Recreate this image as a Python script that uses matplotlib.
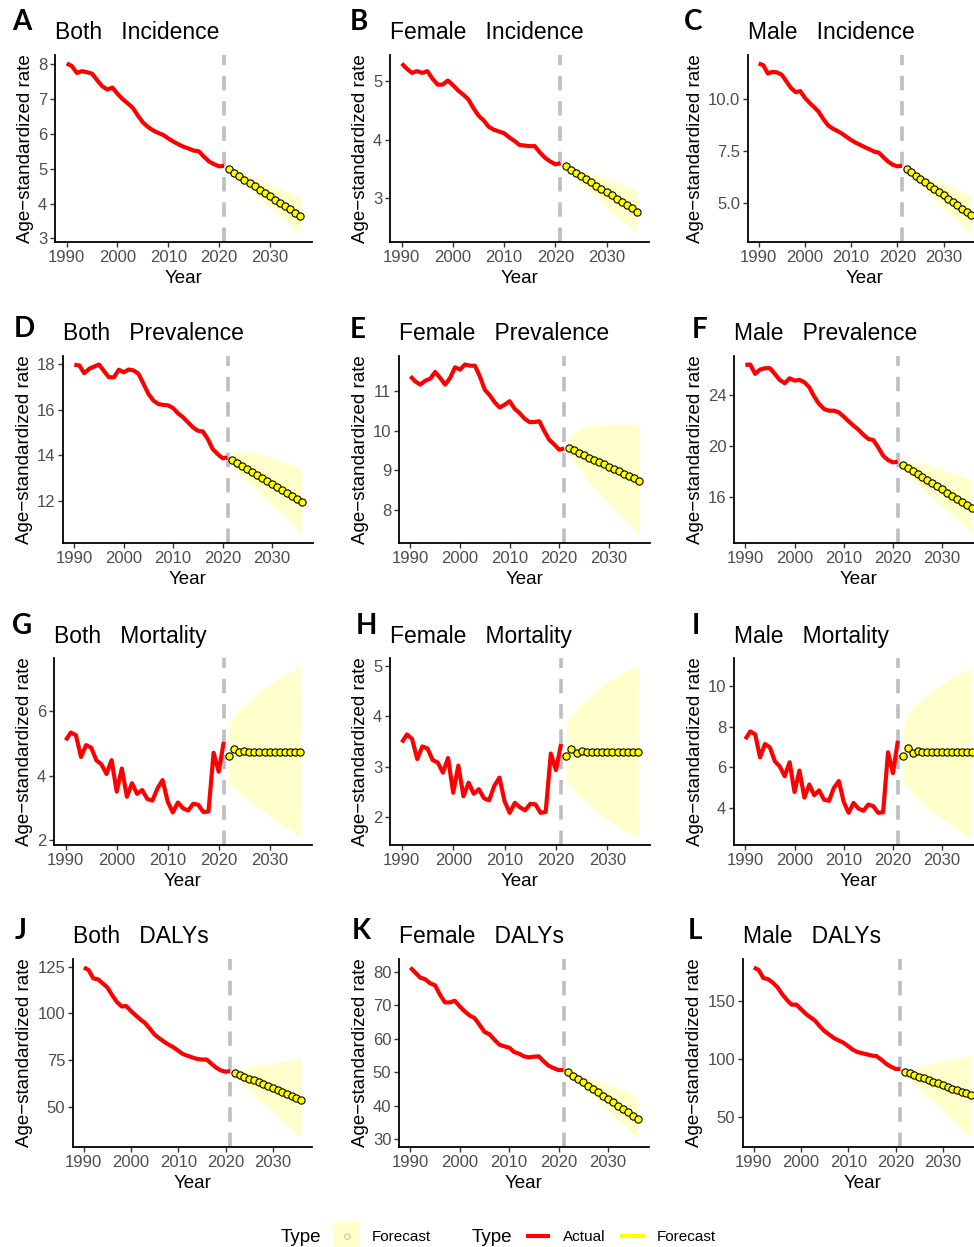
import matplotlib
matplotlib.use("Agg")
import matplotlib.pyplot as plt
from matplotlib.lines import Line2D
from matplotlib.patches import Rectangle
import numpy as np

plt.rcParams['font.family'] = ['Liberation Sans', 'DejaVu Sans']

years_actual = list(range(1990, 2022))
years_fc = list(range(2022, 2037))

# ---------------- data ----------------
both_inc = [8.02, 7.95, 7.75, 7.80, 7.77, 7.73, 7.54, 7.37, 7.27, 7.33, 7.15, 7.00, 6.88, 6.75, 6.53, 6.33,
            6.20, 6.10, 6.03, 5.97, 5.87, 5.78, 5.70, 5.63, 5.58, 5.52, 5.50, 5.35, 5.21, 5.13, 5.07, 5.08]
both_inc_fc = [4.98, 4.88, 4.78, 4.69, 4.59, 4.50, 4.40, 4.31, 4.21, 4.11, 4.02, 3.92, 3.83, 3.73, 3.64]
both_inc_hi = [5.00, 4.96, 4.91, 4.86, 4.80, 4.75, 4.69, 4.63, 4.57, 4.51, 4.45, 4.38, 4.32, 4.25, 4.19]
both_inc_lo = [4.96, 4.80, 4.66, 4.53, 4.40, 4.27, 4.14, 4.01, 3.88, 3.76, 3.63, 3.51, 3.38, 3.26, 3.14]

fem_inc = [5.30, 5.21, 5.14, 5.17, 5.14, 5.17, 5.04, 4.94, 4.94, 5.01, 4.93, 4.84, 4.77, 4.69, 4.54, 4.41,
           4.33, 4.22, 4.17, 4.14, 4.11, 4.04, 3.98, 3.91, 3.90, 3.89, 3.89, 3.78, 3.69, 3.63, 3.58, 3.60]
fem_inc_fc = [3.55, 3.49, 3.44, 3.38, 3.33, 3.27, 3.21, 3.16, 3.10, 3.05, 2.99, 2.94, 2.88, 2.83, 2.77]
fem_inc_hi = [3.57, 3.55, 3.52, 3.49, 3.46, 3.43, 3.40, 3.37, 3.34, 3.31, 3.28, 3.25, 3.21, 3.18, 3.15]
fem_inc_lo = [3.53, 3.43, 3.34, 3.25, 3.17, 3.09, 3.01, 2.93, 2.85, 2.77, 2.69, 2.62, 2.55, 2.47, 2.40]

male_inc = [11.70, 11.62, 11.22, 11.30, 11.27, 11.16, 10.84, 10.52, 10.32, 10.37, 10.05, 9.81, 9.60, 9.37,
            9.02, 8.73, 8.57, 8.46, 8.33, 8.17, 8.02, 7.89, 7.78, 7.67, 7.57, 7.46, 7.41, 7.19, 6.98, 6.83,
            6.75, 6.78]
male_inc_fc = [6.62, 6.46, 6.30, 6.14, 5.98, 5.82, 5.66, 5.50, 5.35, 5.19, 5.03, 4.87, 4.71, 4.55, 4.40]
male_inc_hi = [6.66, 6.58, 6.49, 6.40, 6.31, 6.22, 6.12, 6.02, 5.92, 5.82, 5.72, 5.62, 5.52, 5.42, 5.32]
male_inc_lo = [6.58, 6.32, 6.07, 5.84, 5.61, 5.39, 5.17, 4.95, 4.74, 4.53, 4.32, 4.11, 3.91, 3.71, 3.52]

both_prev = [17.96, 17.93, 17.59, 17.78, 17.88, 17.97, 17.68, 17.41, 17.41, 17.74, 17.63, 17.75, 17.71,
             17.56, 17.12, 16.68, 16.39, 16.24, 16.20, 16.18, 16.06, 15.83, 15.66, 15.44, 15.22, 15.07,
             15.04, 14.71, 14.27, 14.05, 13.87, 13.90]
both_prev_fc = [13.78, 13.65, 13.52, 13.39, 13.26, 13.13, 13.00, 12.86, 12.73, 12.60, 12.47, 12.34, 12.21,
                12.08, 11.95]
both_prev_hi = [14.12, 14.17, 14.16, 14.13, 14.10, 14.05, 14.00, 13.95, 13.89, 13.83, 13.76, 13.69, 13.62,
                13.54, 13.46]
both_prev_lo = [13.50, 13.28, 13.07, 12.86, 12.65, 12.44, 12.23, 12.03, 11.82, 11.62, 11.42, 11.22, 11.02,
                10.80, 10.53]

fem_prev = [11.38, 11.25, 11.17, 11.27, 11.32, 11.49, 11.34, 11.17, 11.34, 11.61, 11.55, 11.68, 11.65,
            11.65, 11.38, 11.04, 10.90, 10.72, 10.59, 10.66, 10.75, 10.56, 10.45, 10.31, 10.22, 10.22,
            10.24, 9.99, 9.77, 9.65, 9.52, 9.55]
fem_prev_fc = [9.56, 9.50, 9.44, 9.38, 9.32, 9.26, 9.21, 9.15, 9.09, 9.03, 8.97, 8.91, 8.85, 8.79, 8.73]
fem_prev_hi = [9.80, 9.95, 10.03, 10.08, 10.11, 10.13, 10.14, 10.15, 10.16, 10.16, 10.16, 10.16, 10.16,
               10.16, 10.16]
fem_prev_lo = [9.40, 9.20, 9.02, 8.86, 8.71, 8.57, 8.43, 8.30, 8.17, 8.04, 7.91, 7.78, 7.65, 7.51, 7.37]

male_prev = [26.31, 26.34, 25.61, 25.95, 26.05, 26.05, 25.61, 25.14, 24.88, 25.27, 25.09, 25.14, 24.96,
             24.57, 23.84, 23.27, 22.88, 22.75, 22.75, 22.62, 22.29, 21.92, 21.58, 21.27, 20.88, 20.55,
             20.47, 19.90, 19.25, 18.91, 18.73, 18.78]
male_prev_fc = [18.55, 18.31, 18.07, 17.83, 17.58, 17.34, 17.10, 16.86, 16.62, 16.38, 16.14, 15.90, 15.66,
                15.41, 15.17]
male_prev_hi = [18.80, 18.85, 18.80, 18.72, 18.62, 18.52, 18.41, 18.29, 18.17, 18.04, 17.91, 17.78, 17.64,
                17.47, 17.30]
male_prev_lo = [18.30, 17.85, 17.45, 17.07, 16.70, 16.34, 15.99, 15.65, 15.30, 14.96, 14.62, 14.28, 13.95,
                13.55, 13.12]

both_mort = [5.10, 5.34, 5.26, 4.58, 4.95, 4.87, 4.48, 4.35, 4.05, 4.48, 3.50, 4.22, 3.34, 3.76, 3.43, 3.55,
             3.27, 3.22, 3.60, 3.86, 3.19, 2.85, 3.16, 2.98, 2.91, 3.12, 3.09, 2.86, 2.88, 4.71, 4.12, 5.05]
both_mort_fc = [4.61, 4.84, 4.72, 4.77, 4.75, 4.75, 4.75, 4.75, 4.75, 4.75, 4.75, 4.75, 4.75, 4.75, 4.75]
both_mort_hi = [5.62, 5.88, 6.05, 6.20, 6.34, 6.47, 6.60, 6.72, 6.83, 6.94, 7.04, 7.13, 7.22, 7.31, 7.40]
both_mort_lo = [3.70, 3.66, 3.46, 3.33, 3.20, 3.08, 2.96, 2.85, 2.74, 2.63, 2.52, 2.41, 2.31, 2.20, 2.10]

fem_mort = [3.48, 3.64, 3.55, 3.15, 3.40, 3.36, 3.13, 3.08, 2.88, 3.17, 2.48, 3.02, 2.41, 2.68, 2.46, 2.55,
            2.37, 2.33, 2.62, 2.78, 2.31, 2.08, 2.28, 2.19, 2.13, 2.26, 2.25, 2.08, 2.10, 3.26, 2.93, 3.45]
fem_mort_fc = [3.22, 3.35, 3.28, 3.31, 3.30, 3.30, 3.30, 3.30, 3.30, 3.30, 3.30, 3.30, 3.30, 3.30, 3.30]
fem_mort_hi = [3.86, 4.03, 4.15, 4.26, 4.36, 4.45, 4.53, 4.61, 4.68, 4.75, 4.81, 4.87, 4.92, 4.96, 4.99]
fem_mort_lo = [2.62, 2.61, 2.46, 2.37, 2.28, 2.19, 2.11, 2.03, 1.96, 1.89, 1.82, 1.75, 1.69, 1.65, 1.61]

male_mort = [7.39, 7.77, 7.63, 6.49, 7.15, 6.98, 6.30, 6.04, 5.56, 6.25, 4.78, 5.84, 4.50, 5.15, 4.62, 4.86,
             4.40, 4.34, 4.98, 5.32, 4.29, 3.75, 4.24, 3.96, 3.85, 4.16, 4.08, 3.75, 3.78, 6.74, 5.71, 7.31]
male_mort_fc = [6.54, 6.93, 6.69, 6.82, 6.77, 6.77, 6.77, 6.77, 6.77, 6.77, 6.77, 6.77, 6.77, 6.77, 6.77]
male_mort_hi = [7.96, 8.65, 8.95, 9.20, 9.42, 9.62, 9.80, 9.97, 10.13, 10.28, 10.42, 10.55, 10.68, 10.82, 10.98]
male_mort_lo = [5.11, 5.15, 4.68, 4.45, 4.22, 4.01, 3.81, 3.62, 3.44, 3.27, 3.10, 2.94, 2.80, 2.68, 2.58]

both_daly = [124.5, 123.2, 118.7, 118.2, 116.0, 113.8, 109.7, 106.1, 103.7, 103.9, 101.2, 98.9, 96.7, 94.7,
             91.7, 88.6, 86.6, 84.8, 83.2, 81.8, 80.0, 78.2, 77.3, 76.4, 75.6, 75.3, 75.3, 73.1, 71.0, 69.5,
             68.8, 69.1]
both_daly_fc = [68.2, 67.2, 66.2, 65.1, 64.1, 63.1, 62.0, 61.0, 60.0, 59.0, 57.9, 56.9, 55.9, 54.8, 53.8]
both_daly_hi = [69.4, 70.0, 70.6, 71.1, 71.6, 72.1, 72.6, 73.0, 73.4, 73.8, 74.2, 74.5, 74.9, 75.2, 75.5]
both_daly_lo = [67.0, 64.2, 61.5, 58.9, 56.4, 54.0, 51.6, 49.3, 47.0, 44.8, 42.6, 40.4, 38.2, 35.6, 33.1]

fem_daly = [81.3, 79.8, 78.3, 77.8, 76.6, 76.0, 73.2, 70.9, 70.9, 71.4, 69.7, 68.2, 67.0, 66.2, 64.2, 62.1,
            61.4, 59.8, 58.3, 57.8, 57.4, 56.1, 55.6, 54.8, 54.5, 54.7, 54.8, 53.3, 52.0, 51.3, 50.7, 50.7]
fem_daly_fc = [50.0, 49.0, 48.0, 47.0, 46.0, 45.0, 44.1, 43.1, 42.1, 41.1, 40.1, 39.1, 38.1, 37.1, 36.1]
fem_daly_hi = [50.4, 50.0, 49.5, 49.0, 48.5, 48.0, 47.5, 47.0, 46.4, 45.9, 45.3, 44.8, 44.2, 43.4, 42.6]
fem_daly_lo = [49.6, 48.2, 46.9, 45.5, 44.2, 42.8, 41.5, 40.1, 38.8, 37.4, 36.1, 34.6, 33.2, 31.7, 30.3]

male_daly = [179.0, 177.0, 170.0, 169.0, 166.0, 162.0, 156.0, 151.0, 147.0, 147.0, 143.0, 139.0, 136.0,
             133.0, 128.0, 124.0, 121.0, 118.0, 116.0, 114.0, 111.0, 108.0, 106.0, 105.0, 104.0, 103.0,
             102.5, 99.5, 96.0, 93.5, 91.5, 91.5]
male_daly_fc = [89.0, 87.6, 86.2, 84.7, 83.3, 81.9, 80.4, 79.0, 77.5, 76.1, 74.6, 73.2, 71.7, 70.3, 68.8]
male_daly_hi = [90.5, 91.5, 92.5, 93.5, 94.5, 95.4, 96.3, 97.2, 98.1, 99.0, 99.9, 100.8, 101.7, 102.6, 103.5]
male_daly_lo = [87.5, 83.3, 79.2, 75.2, 71.2, 67.3, 63.4, 59.5, 55.6, 51.7, 47.8, 43.8, 39.7, 35.6, 31.5]

panel_letters = ["A", "B", "C", "D", "E", "F", "G", "H", "I", "J", "K", "L"]
panel_titles = ["Both   Incidence", "Female   Incidence", "Male   Incidence",
                "Both   Prevalence", "Female   Prevalence", "Male   Prevalence",
                "Both   Mortality", "Female   Mortality", "Male   Mortality",
                "Both   DALYs", "Female   DALYs", "Male   DALYs"]
x_ticks = [1990, 2000, 2010, 2020, 2030]
y_ticks = [[3, 4, 5, 6, 7, 8], [3, 4, 5], [5.0, 7.5, 10.0],
           [12, 14, 16, 18], [8, 9, 10, 11], [16, 20, 24],
           [2, 4, 6], [2, 3, 4, 5], [4, 6, 8, 10],
           [50, 75, 100, 125], [30, 40, 50, 60, 70, 80], [50, 100, 150]]
y_fmt = ["{:.0f}", "{:.0f}", "{:.1f}", "{:.0f}", "{:.0f}", "{:.0f}",
         "{:.0f}", "{:.0f}", "{:.0f}", "{:.0f}", "{:.0f}", "{:.0f}"]

series = [
    (both_inc, both_inc_fc, both_inc_hi, both_inc_lo),
    (fem_inc, fem_inc_fc, fem_inc_hi, fem_inc_lo),
    (male_inc, male_inc_fc, male_inc_hi, male_inc_lo),
    (both_prev, both_prev_fc, both_prev_hi, both_prev_lo),
    (fem_prev, fem_prev_fc, fem_prev_hi, fem_prev_lo),
    (male_prev, male_prev_fc, male_prev_hi, male_prev_lo),
    (both_mort, both_mort_fc, both_mort_hi, both_mort_lo),
    (fem_mort, fem_mort_fc, fem_mort_hi, fem_mort_lo),
    (male_mort, male_mort_fc, male_mort_hi, male_mort_lo),
    (both_daly, both_daly_fc, both_daly_hi, both_daly_lo),
    (fem_daly, fem_daly_fc, fem_daly_hi, fem_daly_lo),
    (male_daly, male_daly_fc, male_daly_hi, male_daly_lo),
]

# ---------------- layout (pixels) ----------------
W, H = 974, 1247
axes_lr = [(55, 312), (390, 649), (748, 982),
           (63, 313), (399, 650), (734, 983),
           (54, 312), (390, 650), (734, 983),
           (73, 312), (399, 649), (743, 982)]
rows_tb = [(55, 242), (356, 543), (658, 845), (959, 1147)]
letter_pos = [(12, 22), (350, 22), (684, 22),
              (14, 329), (350, 330), (692, 330),
              (12, 626), (356, 626), (692, 626),
              (15, 931), (352, 931), (688, 931)]

fig = plt.figure(figsize=(W / 100, H / 100), dpi=100)

TICK_C = "#4D4D4D"
for i in range(12):
    l, r = axes_lr[i]
    t, b = rows_tb[i // 3]
    ax = fig.add_axes([l / W, 1 - b / H, (r - l) / W, (b - t) / H])
    act, fc, hi, lo = series[i]
    ax.fill_between(years_fc, lo, hi, color="#FFFF00", alpha=0.2, linewidth=0, zorder=1)
    ax.plot(years_actual, act, color="#FF0000", lw=3.0, solid_capstyle="butt", zorder=3)
    ax.axvline(2021, color="#BEBEBE", lw=2.6, ls=(0, (4, 3)), zorder=2)
    ax.plot(years_fc, fc, color="#FFFF00", lw=1.0, zorder=4)
    ax.plot(years_fc, fc, ls="none", marker="o", ms=5.2, mfc="#FFFF00", mec="black", mew=0.8, zorder=5)
    ax.margins(x=0.05, y=0.05)
    ax.set_xticks(x_ticks)
    ax.set_yticks(y_ticks[i])
    ax.set_yticklabels([y_fmt[i].format(v) for v in y_ticks[i]])
    for s in ["top", "right"]:
        ax.spines[s].set_visible(False)
    for s in ["left", "bottom"]:
        ax.spines[s].set_linewidth(1.3)
        ax.spines[s].set_color("black")
    ax.tick_params(axis="both", labelsize=12, labelcolor=TICK_C, color="#333333",
                   length=3.5, width=1.0, pad=2)
    ax.set_xlabel("Year", fontsize=13.5, labelpad=4)
    ax.set_ylabel("Age\u2212standardized rate", fontsize=13.5, labelpad=3)
    ax.text(0, 1 + 22 / 187, panel_titles[i], transform=ax.transAxes, ha="left", va="center",
            fontsize=16.5)
    lx, ly = letter_pos[i]
    fig.text(lx / W, 1 - ly / H, panel_letters[i], ha="left", va="center", fontsize=20,
             family=["Lato", "Liberation Sans"], weight="bold")

# ---------------- legend ----------------
def px(x, y):
    return x / W, 1 - y / H

ly = 1237
fig.text(*px(281, ly), "Type", fontsize=13.5, ha="left", va="center")
fig.patches.append(Rectangle(px(333, 1250), 27 / W, 28 / H, transform=fig.transFigure,
                             facecolor="#FFFF00", alpha=0.2, edgecolor="none"))
fig.lines.append(Line2D([346.5 / W], [1 - 1236 / H], transform=fig.transFigure, marker="o",
                        ms=4, mfc="none", mec="#C8C8A0", mew=0.8, ls="none"))
fig.text(*px(372, ly), "Forecast", fontsize=11, ha="left", va="center")
fig.text(*px(472, ly), "Type", fontsize=13.5, ha="left", va="center")
fig.lines.append(Line2D([526 / W, 550 / W], [1 - 1236 / H] * 2, transform=fig.transFigure,
                        color="#FF0000", lw=3.0, solid_capstyle="butt"))
fig.text(*px(563, ly), "Actual", fontsize=11, ha="left", va="center")
fig.lines.append(Line2D([620 / W, 645 / W], [1 - 1236 / H] * 2, transform=fig.transFigure,
                        color="#FFFF00", lw=3.0, solid_capstyle="butt"))
fig.text(*px(657, ly), "Forecast", fontsize=11, ha="left", va="center")

fig.savefig("out.png", dpi=100)
